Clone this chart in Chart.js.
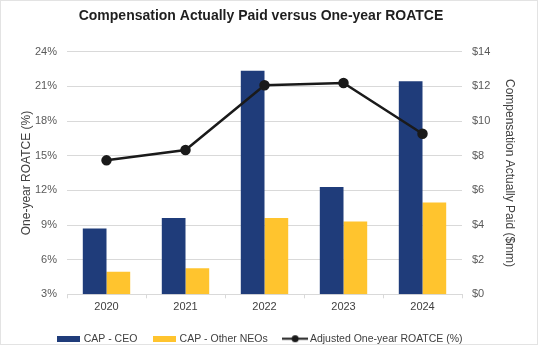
<!DOCTYPE html>
<html lang="en">
<head>
<meta charset="UTF-8">
<title>Compensation Actually Paid versus One-year ROATCE</title>
<script src="https://cdn.jsdelivr.net/npm/chart.js"></script>
<style>
  body { margin: 0; background: #fff; }
  #frame { width: 538px; height: 345px; box-sizing: border-box; border: 1px solid #e3e3e3; }
  canvas { display: block; }
</style>
</head>
<body>
<div id="frame"><canvas id="capChart" width="536" height="343"></canvas></div>
<script>
// Fiscal years and values
const years = ['2020', '2021', '2022', '2023', '2024'];
const capCeo = [3.8, 4.4, 12.9, 6.2, 12.3];        // $mm
const capOtherNeos = [1.3, 1.5, 4.4, 4.2, 5.3];    // $mm
const roatce = [14.6, 15.5, 21.1, 21.3, 16.9];     // %

// Axis ranges
const pctRange = [3, 24, 3];   // min, max, step
const capRange = [0, 14, 2];

const NAVY = '#1f3c7a';
const GOLD = '#ffc42e';
const INK = '#1a1a1a';
const FONT = '"Liberation Sans", Arial, sans-serif';

// small canvases used as legend markers
function swatch(color, w, h) {
    const c = document.createElement('canvas');
    c.width = w; c.height = h;
    const g = c.getContext('2d');
    g.fillStyle = color;
    g.fillRect(0, 0, w, h);
    return c;
}

function lineMarker(color) {
    const c = document.createElement('canvas');
    c.width = 26; c.height = 9;
    const g = c.getContext('2d');
    g.strokeStyle = color;
    g.lineWidth = 2;
    g.beginPath();
    g.moveTo(0, 4.5);
    g.lineTo(26, 4.5);
    g.stroke();
    g.fillStyle = color;
    g.beginPath();
    g.arc(13, 4.5, 3.5, 0, Math.PI * 2);
    g.fill();
    return c;
}

const markers = [swatch(NAVY, 23, 6), swatch(GOLD, 23, 6), lineMarker(INK)];

const ctx = document.getElementById('capChart').getContext('2d');
const chart = new Chart(ctx, {
    type: 'bar',
    data: {
        labels: years,
        datasets: [
            {
                type: 'line',
                label: 'Adjusted One-year ROATCE (%)',
                data: roatce,
                yAxisID: 'y',
                borderColor: INK,
                backgroundColor: INK,
                borderWidth: 2.5,
                pointRadius: 4,
                pointBackgroundColor: INK,
                tension: 0
            },
            {
                label: 'CAP - CEO',
                data: capCeo,
                yAxisID: 'y1',
                backgroundColor: NAVY,
                categoryPercentage: 0.6,
                barPercentage: 1.0
            },
            {
                label: 'CAP - Other NEOs',
                data: capOtherNeos,
                yAxisID: 'y1',
                backgroundColor: GOLD,
                categoryPercentage: 0.6,
                barPercentage: 1.0
            }
        ]
    },
    options: {
        responsive: false,
        animation: false,
        layout: { padding: { left: 0, right: 16, top: 0, bottom: -10 } },
        plugins: {
            tooltip: { enabled: false },
            title: {
                display: true,
                text: 'Compensation Actually Paid versus One-year ROATCE',
                color: '#1f1f1f',
                font: { family: FONT, size: 14, weight: 'bold' },
                padding: { top: 7, bottom: 27 }
            },
            legend: {
                position: 'bottom',
                labels: {
                    color: '#404040',
                    font: { family: FONT, size: 10.5 },
                    usePointStyle: true,
                    pointStyleWidth: 19,
                    boxHeight: 11,
                    padding: 18,
                    // bars first, then the line
                    generateLabels: (c) => [1, 2, 0].map((i, k) => ({
                        text: c.data.datasets[i].label,
                        datasetIndex: i,
                        fillStyle: c.data.datasets[i].backgroundColor,
                        strokeStyle: c.data.datasets[i].backgroundColor,
                        lineWidth: 0,
                        hidden: false,
                        pointStyle: markers[k],
                        fontColor: '#404040'
                    }))
                }
            }
        },
        scales: {
            x: {
                offset: true,
                grid: {
                    display: true,
                    drawOnChartArea: false,
                    drawTicks: true,
                    tickLength: 4,
                    color: '#d9d9d9',
                    offset: true
                },
                border: { color: '#d9d9d9' },
                ticks: {
                    color: '#404040',
                    font: { family: FONT, size: 11 },
                    padding: 2
                }
            },
            y: {
                position: 'left',
                min: pctRange[0],
                max: pctRange[1],
                afterFit: (s) => { s.width = 66; },
                grid: { color: '#d9d9d9', drawTicks: false },
                border: { display: false },
                ticks: {
                    stepSize: pctRange[2],
                    padding: 10,
                    color: '#595959',
                    font: { family: FONT, size: 11 },
                    callback: (v) => v + '%'
                },
                title: {
                    display: true,
                    text: 'One-year ROATCE (%)',
                    color: '#404040',
                    font: { family: FONT, size: 12 },
                    padding: { top: 18, bottom: 0 }
                }
            },
            y1: {
                position: 'right',
                min: capRange[0],
                max: capRange[1],
                afterFit: (s) => { s.width = 59; },
                grid: { display: false, drawTicks: false },
                border: { display: false },
                ticks: {
                    stepSize: capRange[2],
                    padding: 10,
                    color: '#595959',
                    font: { family: FONT, size: 11 },
                    callback: (v) => '$' + v
                },
                title: {
                    display: true,
                    text: 'Compensation Actually Paid ($mm)',
                    color: '#404040',
                    font: { family: FONT, size: 12 },
                    padding: { top: 4, bottom: 0 }
                }
            }
        }
    }
});
</script>
</body>
</html>
